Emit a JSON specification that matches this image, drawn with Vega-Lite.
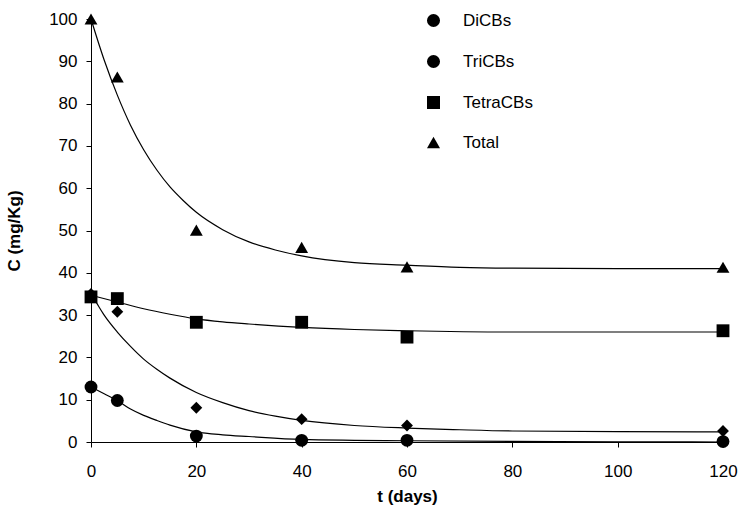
{
  "$schema": "https://vega.github.io/schema/vega-lite/v6.json",
  "autosize": "none",
  "width": 632,
  "height": 423,
  "padding": {"left": 91, "top": 19, "right": 18, "bottom": 64},
  "background": "white",
  "config": {
    "view": {"stroke": null},
    "font": "Liberation Sans",
    "axis": {
      "grid": false,
      "labelFlush": false,
      "domainColor": "black",
      "domainWidth": 1,
      "tickColor": "black",
      "tickSize": 5,
      "labelFont": "Liberation Sans",
      "labelFontSize": 17,
      "labelColor": "black",
      "titleFont": "Liberation Sans",
      "titleFontSize": 17,
      "titleFontWeight": "bold",
      "titleColor": "black"
    }
  },
  "datasets": {
    "points": [
      {"series": "DiCBs", "t": 0, "C": 13.0},
      {"series": "DiCBs", "t": 5, "C": 9.8},
      {"series": "DiCBs", "t": 20, "C": 1.4},
      {"series": "DiCBs", "t": 40, "C": 0.4},
      {"series": "DiCBs", "t": 60, "C": 0.4},
      {"series": "DiCBs", "t": 120, "C": 0.1},
      {"series": "TriCBs", "t": 0, "C": 35.0},
      {"series": "TriCBs", "t": 5, "C": 30.8},
      {"series": "TriCBs", "t": 20, "C": 8.1},
      {"series": "TriCBs", "t": 40, "C": 5.4},
      {"series": "TriCBs", "t": 60, "C": 3.9},
      {"series": "TriCBs", "t": 120, "C": 2.6},
      {"series": "TetraCBs", "t": 0, "C": 34.3},
      {"series": "TetraCBs", "t": 5, "C": 33.9},
      {"series": "TetraCBs", "t": 20, "C": 28.3},
      {"series": "TetraCBs", "t": 40, "C": 28.3},
      {"series": "TetraCBs", "t": 60, "C": 24.8},
      {"series": "TetraCBs", "t": 120, "C": 26.3},
      {"series": "Total", "t": 0, "C": 100},
      {"series": "Total", "t": 5, "C": 86.3},
      {"series": "Total", "t": 20, "C": 50.1},
      {"series": "Total", "t": 40, "C": 46.0},
      {"series": "Total", "t": 60, "C": 41.4},
      {"series": "Total", "t": 120, "C": 41.3}
    ],
    "curves": [
      {"series": "Total", "t": 0, "C": 100},
      {"series": "Total", "t": 2.5, "C": 90.3},
      {"series": "Total", "t": 5, "C": 82},
      {"series": "Total", "t": 7.5, "C": 74.9},
      {"series": "Total", "t": 10, "C": 69.1},
      {"series": "Total", "t": 12.5, "C": 64.3},
      {"series": "Total", "t": 15, "C": 60.3},
      {"series": "Total", "t": 17.5, "C": 57.1},
      {"series": "Total", "t": 20, "C": 54.3},
      {"series": "Total", "t": 25, "C": 50.2},
      {"series": "Total", "t": 30, "C": 47.3},
      {"series": "Total", "t": 35, "C": 45.4},
      {"series": "Total", "t": 40, "C": 44.0},
      {"series": "Total", "t": 50, "C": 42.4},
      {"series": "Total", "t": 60, "C": 41.8},
      {"series": "Total", "t": 70, "C": 41.3},
      {"series": "Total", "t": 80, "C": 41.1},
      {"series": "Total", "t": 100, "C": 41.0},
      {"series": "Total", "t": 120, "C": 41.0},
      {"series": "TetraCBs", "t": 0, "C": 34.7},
      {"series": "TetraCBs", "t": 5, "C": 33.1},
      {"series": "TetraCBs", "t": 10, "C": 31.5},
      {"series": "TetraCBs", "t": 15, "C": 30.2},
      {"series": "TetraCBs", "t": 20, "C": 29.1},
      {"series": "TetraCBs", "t": 25, "C": 28.4},
      {"series": "TetraCBs", "t": 30, "C": 27.9},
      {"series": "TetraCBs", "t": 40, "C": 27.1},
      {"series": "TetraCBs", "t": 50, "C": 26.6},
      {"series": "TetraCBs", "t": 60, "C": 26.3},
      {"series": "TetraCBs", "t": 80, "C": 26.0},
      {"series": "TetraCBs", "t": 100, "C": 26.0},
      {"series": "TetraCBs", "t": 120, "C": 26.0},
      {"series": "TriCBs", "t": 0, "C": 35},
      {"series": "TriCBs", "t": 1, "C": 33},
      {"series": "TriCBs", "t": 2.5, "C": 30},
      {"series": "TriCBs", "t": 5, "C": 26},
      {"series": "TriCBs", "t": 7.5, "C": 22.6},
      {"series": "TriCBs", "t": 10, "C": 19.6},
      {"series": "TriCBs", "t": 12.5, "C": 17.2},
      {"series": "TriCBs", "t": 15, "C": 15.1},
      {"series": "TriCBs", "t": 20, "C": 11.7},
      {"series": "TriCBs", "t": 25, "C": 9.3},
      {"series": "TriCBs", "t": 30, "C": 7.4},
      {"series": "TriCBs", "t": 35, "C": 6.1},
      {"series": "TriCBs", "t": 40, "C": 5.1},
      {"series": "TriCBs", "t": 50, "C": 3.9},
      {"series": "TriCBs", "t": 60, "C": 3.3},
      {"series": "TriCBs", "t": 70, "C": 2.9},
      {"series": "TriCBs", "t": 80, "C": 2.6},
      {"series": "TriCBs", "t": 100, "C": 2.45},
      {"series": "TriCBs", "t": 120, "C": 2.4},
      {"series": "DiCBs", "t": 0, "C": 13},
      {"series": "DiCBs", "t": 2.5, "C": 11.4},
      {"series": "DiCBs", "t": 5, "C": 9.8},
      {"series": "DiCBs", "t": 7.5, "C": 7.8},
      {"series": "DiCBs", "t": 10, "C": 6.3},
      {"series": "DiCBs", "t": 12.5, "C": 5.1},
      {"series": "DiCBs", "t": 15, "C": 4.0},
      {"series": "DiCBs", "t": 20, "C": 2.4},
      {"series": "DiCBs", "t": 25, "C": 1.7},
      {"series": "DiCBs", "t": 30, "C": 1.3},
      {"series": "DiCBs", "t": 40, "C": 0.6},
      {"series": "DiCBs", "t": 50, "C": 0.4},
      {"series": "DiCBs", "t": 60, "C": 0.3},
      {"series": "DiCBs", "t": 80, "C": 0.15},
      {"series": "DiCBs", "t": 100, "C": 0.05},
      {"series": "DiCBs", "t": 120, "C": 0}
    ]
  },
  "encoding": {
    "x": {
      "field": "t", "type": "quantitative",
      "scale": {"domain": [0, 120], "nice": false},
      "axis": {"values": [0, 20, 40, 60, 80, 100, 120], "title": "t (days)", "labelPadding": 16, "titlePadding": 9}
    },
    "y": {
      "field": "C", "type": "quantitative",
      "scale": {"domain": [0, 100], "nice": false},
      "axis": {"values": [0, 10, 20, 30, 40, 50, 60, 70, 80, 90, 100], "title": "C (mg/Kg)", "labelPadding": 9, "titlePadding": 25}
    }
  },
  "layer": [
    {
      "data": {"name": "curves"},
      "mark": {"type": "line", "color": "black", "strokeWidth": 1.2, "interpolate": "monotone", "clip": false},
      "encoding": {"detail": {"field": "series"}}
    },
    {
      "data": {"name": "points"},
      "transform": [{"filter": "datum.series !== 'TriCBs'"}],
      "mark": {"type": "point", "filled": true, "color": "black", "opacity": 1, "size": 165, "clip": false},
      "encoding": {
        "shape": {
          "field": "series", "type": "nominal",
          "scale": {"domain": ["DiCBs", "TriCBs", "TetraCBs", "Total"], "range": ["circle", "circle", "square", "triangle-up"]},
          "legend": {
            "title": null,
            "orient": "none",
            "legendX": 334,
            "legendY": -7,
            "padding": 0,
            "symbolSize": 170,
            "symbolFillColor": "black",
            "symbolStrokeColor": "black",
            "symbolOpacity": 1,
            "labelFontSize": 17,
            "labelFont": "Liberation Sans",
            "labelColor": "black",
            "labelOffset": 21,
            "rowPadding": 20
          }
        }
      }
    },
    {
      "data": {"name": "points"},
      "transform": [{"filter": "datum.series === 'TriCBs'"}],
      "mark": {"type": "point", "shape": "diamond", "filled": true, "color": "black", "opacity": 1, "size": 140, "clip": false}
    }
  ]
}
